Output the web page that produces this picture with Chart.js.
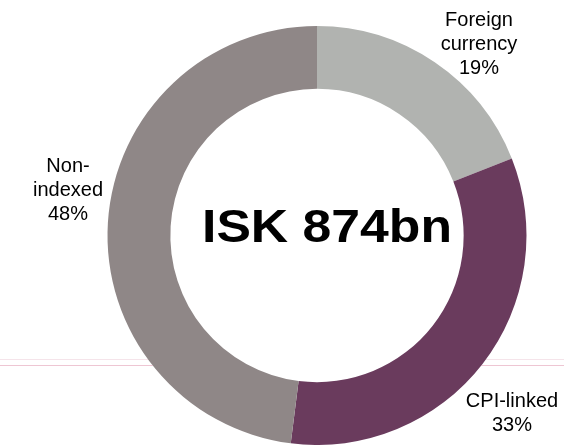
<!DOCTYPE html>
<html>
<head>
<meta charset="utf-8">
<script src="https://cdn.jsdelivr.net/npm/chart.js@4"></script>
<style>
  html, body { margin: 0; padding: 0; background: #fff; overflow: hidden; }
  #wrap { width: 564px; height: 445px; }
</style>
</head>
<body>
<div id="wrap"><canvas id="myChart"></canvas></div>
<script>
const categories = ['Foreign currency', 'CPI-linked', 'Non-indexed'];
const shares = [19, 33, 48];
const totalLabel = 'ISK 874bn';
const colors = ['#b1b3b0', '#6a3b5d', '#8f8787'];

// label text lines and anchor points (centre x, first baseline y)
const labelLines = [['Foreign', 'currency'], ['CPI-linked'], ['Non-', 'indexed']];
const labelPos = [[479, 26], [512, 407], [68, 172]];

const decor = {
  id: 'decor',
  beforeDatasetsDraw(chart) {
    const c = chart.ctx;
    const arc = chart.getDatasetMeta(0).data[0];
    c.save();
    c.lineWidth = 1;
    c.strokeStyle = '#f5e4ea';
    c.beginPath(); c.moveTo(0, 359.5); c.lineTo(564, 359.5); c.stroke();
    c.strokeStyle = '#eec6d3';
    c.beginPath(); c.moveTo(0, 365.5); c.lineTo(564, 365.5); c.stroke();
    // hide the lines inside the ring's hole
    c.fillStyle = '#fff';
    c.beginPath(); c.arc(arc.x, arc.y, arc.outerRadius, 0, Math.PI * 2); c.fill();
    c.restore();
  },
  afterDraw(chart) {
    const c = chart.ctx;
    const arc = chart.getDatasetMeta(0).data[0];
    c.save();
    c.fillStyle = '#000';
    c.textAlign = 'center';
    c.textBaseline = 'alphabetic';
    c.font = '20px "Liberation Sans", Arial, sans-serif';
    labelLines.forEach((lines, i) => {
      const all = lines.concat([shares[i] + '%']);
      all.forEach((t, j) => c.fillText(t, labelPos[i][0], labelPos[i][1] + j * 24));
    });
    c.font = 'bold 47px "Liberation Sans", Arial, sans-serif';
    c.translate(arc.x + 10, arc.y + 6);
    c.scale(1.1, 1);
    c.fillText(totalLabel, 0, 0);
    c.restore();
  }
};

new Chart(document.getElementById('myChart'), {
  type: 'doughnut',
  data: {
    labels: categories,
    datasets: [{
      data: shares,
      backgroundColor: colors,
      borderWidth: 0
    }]
  },
  options: {
    responsive: true,
    maintainAspectRatio: false,
    animation: false,
    cutout: '70%',
    layout: { padding: { left: 107, right: 37, top: 26, bottom: 0 } },
    plugins: {
      legend: { display: false },
      tooltip: { enabled: false }
    }
  },
  plugins: [decor]
});
</script>
</body>
</html>
